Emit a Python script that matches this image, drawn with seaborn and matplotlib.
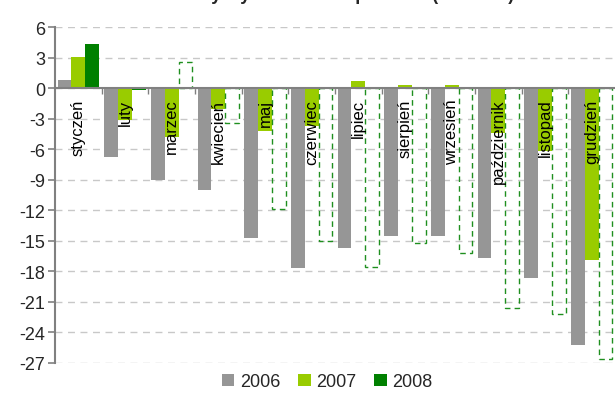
import matplotlib
matplotlib.use("Agg")
import matplotlib.pyplot as plt
from matplotlib.patches import Patch
import numpy as np
import pandas as pd
import seaborn as sns

# dane (mld zł)
miesiace = ["styczeń", "luty", "marzec", "kwiecień", "maj", "czerwiec",
            "lipiec", "sierpień", "wrzesień", "październik", "listopad", "grudzień"]
lata = ["2006", "2007", "2008"]
w2006 = [0.8, -6.7, -9.0, -10.0, -14.7, -17.7, -15.7, -14.5, -14.5, -16.7, -18.6, -25.2]
w2007 = [3.1, -3.1, -4.8, -2.0, -4.2, -3.7, 0.7, 0.3, 0.3, -4.4, -6.1, -16.9]
w2008 = [4.4, -0.1, None, None, None, None, None, None, None, None, None, None]
plan2008 = [None, None, 2.6, -3.4, -11.9, -15.0, -17.6, -15.2, -16.2, -21.6, -22.2, -26.6]
yticks = list(range(-27, 7, 3))

kolory = {"2006": "#969696", "2007": "#99CC00", "2008": "#008000"}

df = pd.DataFrame({
    "miesiac": miesiace * 3,
    "rok": [r for r in lata for _ in miesiace],
    "wynik": w2006 + w2007 + w2008,
}).dropna()

sns.set_style("white")
plt.rcParams["font.family"] = ["Liberation Sans Narrow", "Liberation Sans", "DejaVu Sans"]

fig = plt.figure(figsize=(6.15, 4.1), dpi=100)
ax = fig.add_axes([0.0894, 0.1122, 0.9106, 0.8183])

szer = 0.89
sns.barplot(data=df, x="miesiac", y="wynik", hue="rok", order=miesiace,
            hue_order=lata, palette=kolory, saturation=1, width=szer,
            linewidth=0, errorbar=None, legend=False, ax=ax)

# plan 2008 - puste slupki z przerywana ramka
b = szer / 3
xs = np.arange(len(miesiace))
plan = np.array([np.nan if v is None else v for v in plan2008], dtype=float)
ok = ~np.isnan(plan)
ax.bar(xs[ok] + b, plan[ok], width=b, fill=False, edgecolor="#1F8F1F",
       linestyle=(0, (4, 3)), linewidth=1.0, zorder=3)

ax.set_xlim(-0.5, 11.5)
ax.set_ylim(-27, 6)
ax.set_yticks(yticks)
ax.set_yticklabels([str(t) for t in yticks], fontsize=13)
ax.set_xlabel("")
ax.set_ylabel("")

ax.yaxis.grid(True, color="#C8C8C8", linestyle=(0, (5, 4)), linewidth=1.0)
ax.set_axisbelow(True)

for s in ["top", "right"]:
    ax.spines[s].set_visible(False)
ax.spines["left"].set_color("#808080")
ax.spines["left"].set_linewidth(1.5)
ax.spines["bottom"].set_position(("data", 0))
ax.spines["bottom"].set_color("#808080")
ax.spines["bottom"].set_linewidth(1.5)
ax.spines["bottom"].set_zorder(4)

ax.tick_params(axis="y", left=True, direction="out", length=5, width=1.2,
               color="#808080", pad=2)
ax.set_xticks(xs)
ax.set_xticklabels([])
ax.tick_params(axis="x", which="major", length=0)
ax.set_xticks(np.arange(0.5, 11.5, 1), minor=True)
ax.tick_params(axis="x", which="minor", bottom=True, direction="out",
               length=4, width=1.0, color="#808080")

for i, m in enumerate(miesiace):
    ax.text(i, -1.0, m, rotation=90, ha="center", va="top", fontsize=12,
            color="black", zorder=5)

uchwyty = [Patch(facecolor=kolory[r], edgecolor="none", label=r) for r in lata]
fig.legend(handles=uchwyty, loc="center", bbox_to_anchor=(0.532, 0.066),
           ncol=3, frameon=False, fontsize=13, handlelength=0.7,
           handleheight=0.7, handletextpad=0.3, columnspacing=1.0)

# tytul - w oryginale obciety przy gornej krawedzi (widac tylko dolne laski liter)
fig.text(0.5, 1 - 4.5 / 410, "Skumulowany wynik budżetu państwa (w mld zł)",
         ha="center", va="bottom", fontsize=13, fontweight="bold")

fig.savefig("out.png", dpi=100)
